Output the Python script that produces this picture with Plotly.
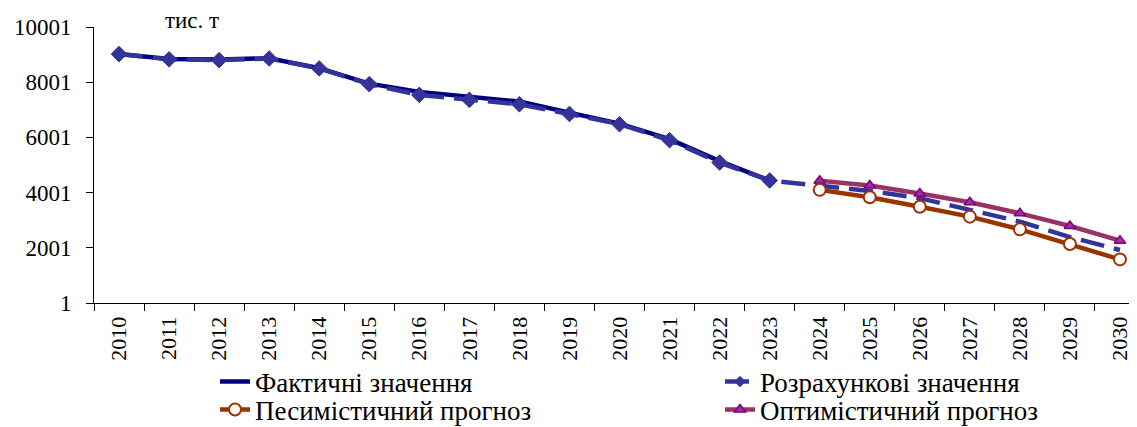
import plotly.graph_objects as go

# Years on the category axis
years = [str(y) for y in range(2010, 2031)]

# Values, thousand tonnes
actual = [9020, 8840, 8820, 8870, 8510, 7950, 7650, 7480, 7300, 6900,
          6500, 5940, 5140, 4440]
estimated = [9020, 8830, 8800, 8860, 8500, 7930, 7540, 7360, 7200, 6850,
             6480, 5900, 5090, 4440, 4250, 4060, 3800, 3380, 2950, 2390, 1920]
pessimistic = [4100, 3830, 3490, 3130, 2670, 2140, 1580]
optimistic = [4430, 4260, 3970, 3650, 3250, 2790, 2260]

y_ticks = [1, 2001, 4001, 6001, 8001, 10001]
y_labels = [str(v) for v in y_ticks]

FONT = "Times New Roman, Liberation Serif, serif"
W, H = 1137, 427
# the page adds an 8px body margin, so the figure is placed a bit lower/right
OFF = 8
L, T, B = 94 - OFF, 27 - OFF, H - (303 - OFF)


def legend_at(px, py):
    # one legend box per series, placed in page pixels
    return dict(xref="container", yref="container",
                x=(px - OFF) / W, y=1 - (py - OFF) / H,
                xanchor="left", yanchor="middle",
                bgcolor="rgba(0,0,0,0)", font=dict(size=27, family=FONT))


fig = go.Figure()

fig.add_trace(go.Scatter(
    x=years[:len(actual)], y=actual, name="Фактичні значення",
    mode="lines", line=dict(color="#000080", width=4.5),
    legend="legend",
))

n_hist = len(actual)
fig.add_trace(go.Scatter(
    x=years, y=estimated, name="Розрахункові значення",
    mode="lines+markers",
    line=dict(color="#333399", width=4.5, dash="24px,10px"),
    marker=dict(symbol="diamond", color="#333399", opacity=1,
                line=dict(color="#333399", width=1),
                size=[12] * n_hist + [0] * (len(years) - n_hist)),
    legend="legend2",
))

fig.add_trace(go.Scatter(
    x=years[-len(optimistic):], y=optimistic, name="Оптимістичний прогноз",
    mode="lines+markers", line=dict(color="#993366", width=4.5),
    marker=dict(symbol="triangle-up", size=10, color="#993399",
                line=dict(color="#800080", width=1.5)),
    legend="legend4",
))

fig.add_trace(go.Scatter(
    x=years[-len(pessimistic):], y=pessimistic, name="Песимістичний прогноз",
    mode="lines+markers", line=dict(color="#993300", width=4.5),
    marker=dict(symbol="circle", size=12, color="white",
                line=dict(color="#993300", width=2)),
    legend="legend3",
))

plot_w = W - L
plot_h = H - T - B

fig.update_layout(
    width=W, height=H,
    margin=dict(l=L, r=0, t=T, b=B, autoexpand=False),
    paper_bgcolor="white", plot_bgcolor="white",
    font=dict(family=FONT, color="black", size=23),
    showlegend=True,
    legend=legend_at(215, 382),
    legend2=legend_at(720, 382),
    legend3=legend_at(215, 410),
    legend4=legend_at(720, 410),
    annotations=[dict(text="тис. т", xref="paper", yref="paper",
                      x=(163 - OFF - L) / plot_w, y=1 + (T - (20 - OFF)) / plot_h,
                      xanchor="left", yanchor="middle",
                      showarrow=False, font=dict(size=23, family=FONT))],
)

fig.update_xaxes(
    type="category", range=[-0.5, 20.5], automargin=False,
    showline=True, linecolor="black", linewidth=1,
    ticks="outside", tickson="boundaries", ticklen=7, tickcolor="black",
    tickangle=-90, tickfont=dict(size=22), ticklabelstandoff=4,
    showgrid=False, zeroline=False,
)
fig.update_yaxes(
    range=[1, 10001], tickvals=y_ticks, ticktext=y_labels, automargin=False,
    showline=True, linecolor="black", linewidth=1,
    ticks="outside", ticklen=7, tickcolor="black", ticklabelstandoff=10,
    showgrid=False, zeroline=False,
)

fig.write_html("out.html")
